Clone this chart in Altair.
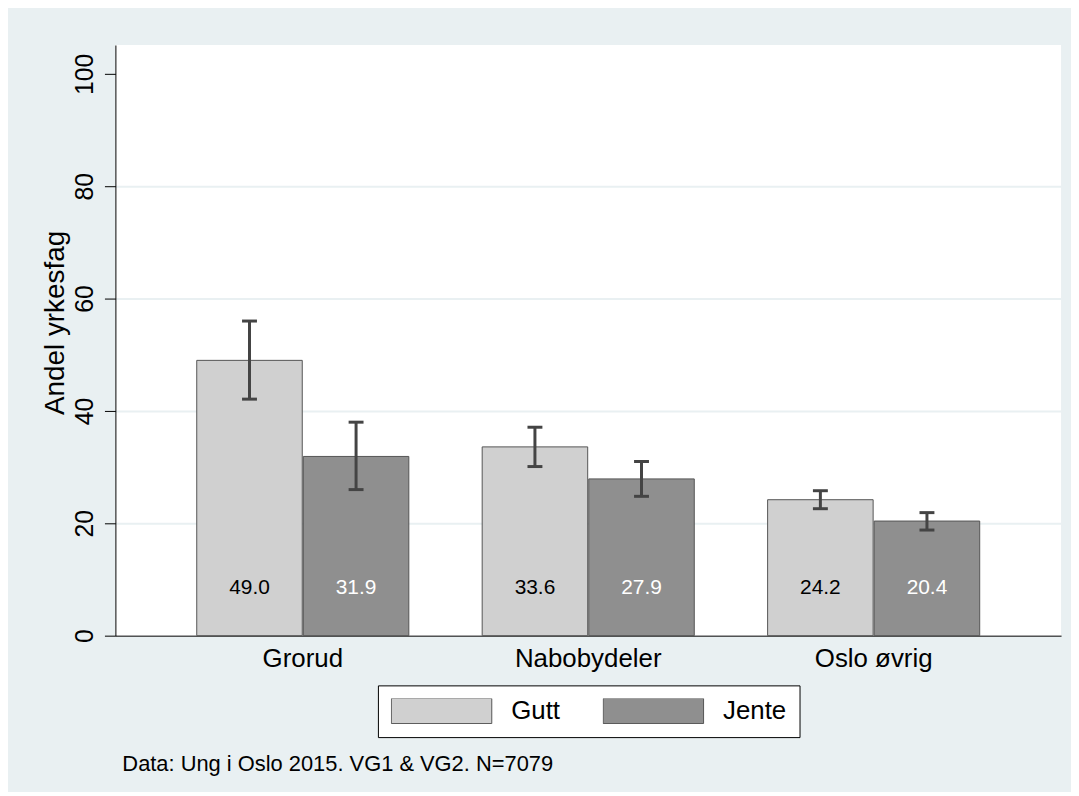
import altair as alt
import pandas as pd

districts = ["Grorud", "Nabobydeler", "Oslo øvrig"]
sexes = ["Gutt", "Jente"]
gutt = [49.0, 33.6, 24.2]
jente = [31.9, 27.9, 20.4]
gutt_lo = [42.1, 30.1, 22.6]
gutt_hi = [56.0, 37.1, 25.8]
jente_lo = [26.0, 24.8, 18.8]
jente_hi = [38.0, 31.0, 21.9]
y_ticks = [0, 20, 40, 60, 80, 100]

rows = []
for i, d in enumerate(districts):
    rows.append(dict(omr=d, kjonn="Gutt", andel=gutt[i], lo=gutt_lo[i], hi=gutt_hi[i], label=f"{gutt[i]:.1f}"))
    rows.append(dict(omr=d, kjonn="Jente", andel=jente[i], lo=jente_lo[i], hi=jente_hi[i], label=f"{jente[i]:.1f}"))
df = pd.DataFrame(rows)

FONT = "Liberation Sans"
BG = "#e9f0f2"

x = alt.X("omr:N", sort=districts,
          scale=alt.Scale(paddingInner=0.257, paddingOuter=0.285),
          axis=alt.Axis(title=None, labelAngle=0, labelFontSize=26, labelFont=FONT,
                        labelColor="black", ticks=False, domainColor="black",
                        labelPadding=10, grid=False))
xoff = alt.XOffset("kjonn:N", sort=sexes, scale=alt.Scale(paddingInner=0.01, paddingOuter=0))
yscale = alt.Scale(domain=[0, 105.13], nice=False, zero=True)

y = alt.Y("andel:Q", scale=yscale,
          axis=alt.Axis(values=y_ticks, title="Andel yrkesfag", titleFontSize=28, titleFont=FONT,
                        titleFontWeight="normal", titleColor="black", titleAngle=270,
                        titleX=-52, titleY=279, titleAlign="center", titleBaseline="alphabetic",
                        labelFontSize=25, labelFont=FONT, labelColor="black", labelAngle=270,
                        labelAlign="center", labelBaseline="bottom", labelPadding=7,
                        tickSize=11, tickColor="black", domainColor="black",
                        grid=True, gridColor=BG, gridWidth=2,
                        gridOpacity={"condition": {"test": "datum.value > 0 && datum.value < 100", "value": 1}, "value": 0}))

base = alt.Chart(df)

bars = base.mark_bar(stroke="#555555", strokeWidth=1).encode(
    x=x, xOffset=xoff, y=y,
    fill=alt.Fill("kjonn:N", scale=alt.Scale(domain=sexes, range=["#d0d0d0", "#8f8f8f"]),
                  legend=alt.Legend(title=None, orient="none", legendX=264, legendY=644,
                                    direction="horizontal", columns=2,
                                    symbolType="M-1,-0.25H1V0.25H-1Z", symbolSize=10201,
                                    symbolStrokeColor="#555555", symbolStrokeWidth=1,
                                    symbolOpacity=1,
                                    labelFontSize=26, labelFont=FONT, labelColor="black",
                                    labelOffset=19, columnPadding=42, padding=13,
                                    strokeColor="black", fillColor="white", clipHeight=25)),
)

rules = base.mark_rule(color="#444444", strokeWidth=3).encode(
    x=x, xOffset=xoff, y=alt.Y("lo:Q", scale=yscale), y2="hi:Q")
cap_lo = base.mark_tick(color="#444444", thickness=3, size=15, orient="horizontal", opacity=1).encode(
    x=x, xOffset=xoff, y=alt.Y("lo:Q", scale=yscale))
cap_hi = base.mark_tick(color="#444444", thickness=3, size=15, orient="horizontal", opacity=1).encode(
    x=x, xOffset=xoff, y=alt.Y("hi:Q", scale=yscale))

labels = base.mark_text(fontSize=21, font=FONT, dy=-48, baseline="middle").encode(
    x=x, xOffset=xoff, y=alt.datum(0, scale=yscale),
    text="label:N",
    color=alt.condition(alt.datum.kjonn == "Jente", alt.value("white"), alt.value("black")))

chart = alt.layer(bars, rules, cap_lo, cap_hi, labels).properties(
    width=951, height=594,
    title=alt.TitleParams(text="Data: Ung i Oslo 2015. VG1 & VG2. N=7079", orient="bottom",
                          anchor="start", frame="group", fontSize=22, font=FONT,
                          fontWeight="normal", color="black", offset=17, dx=7),
    autosize=alt.AutoSizeParams(type="none"),
    padding={"left": 108, "top": 35, "right": 10, "bottom": 155},
    background=BG,
).configure_view(fill="white", strokeWidth=0)

chart.save("out.html", embed_options={"renderer": "svg", "actions": False})
